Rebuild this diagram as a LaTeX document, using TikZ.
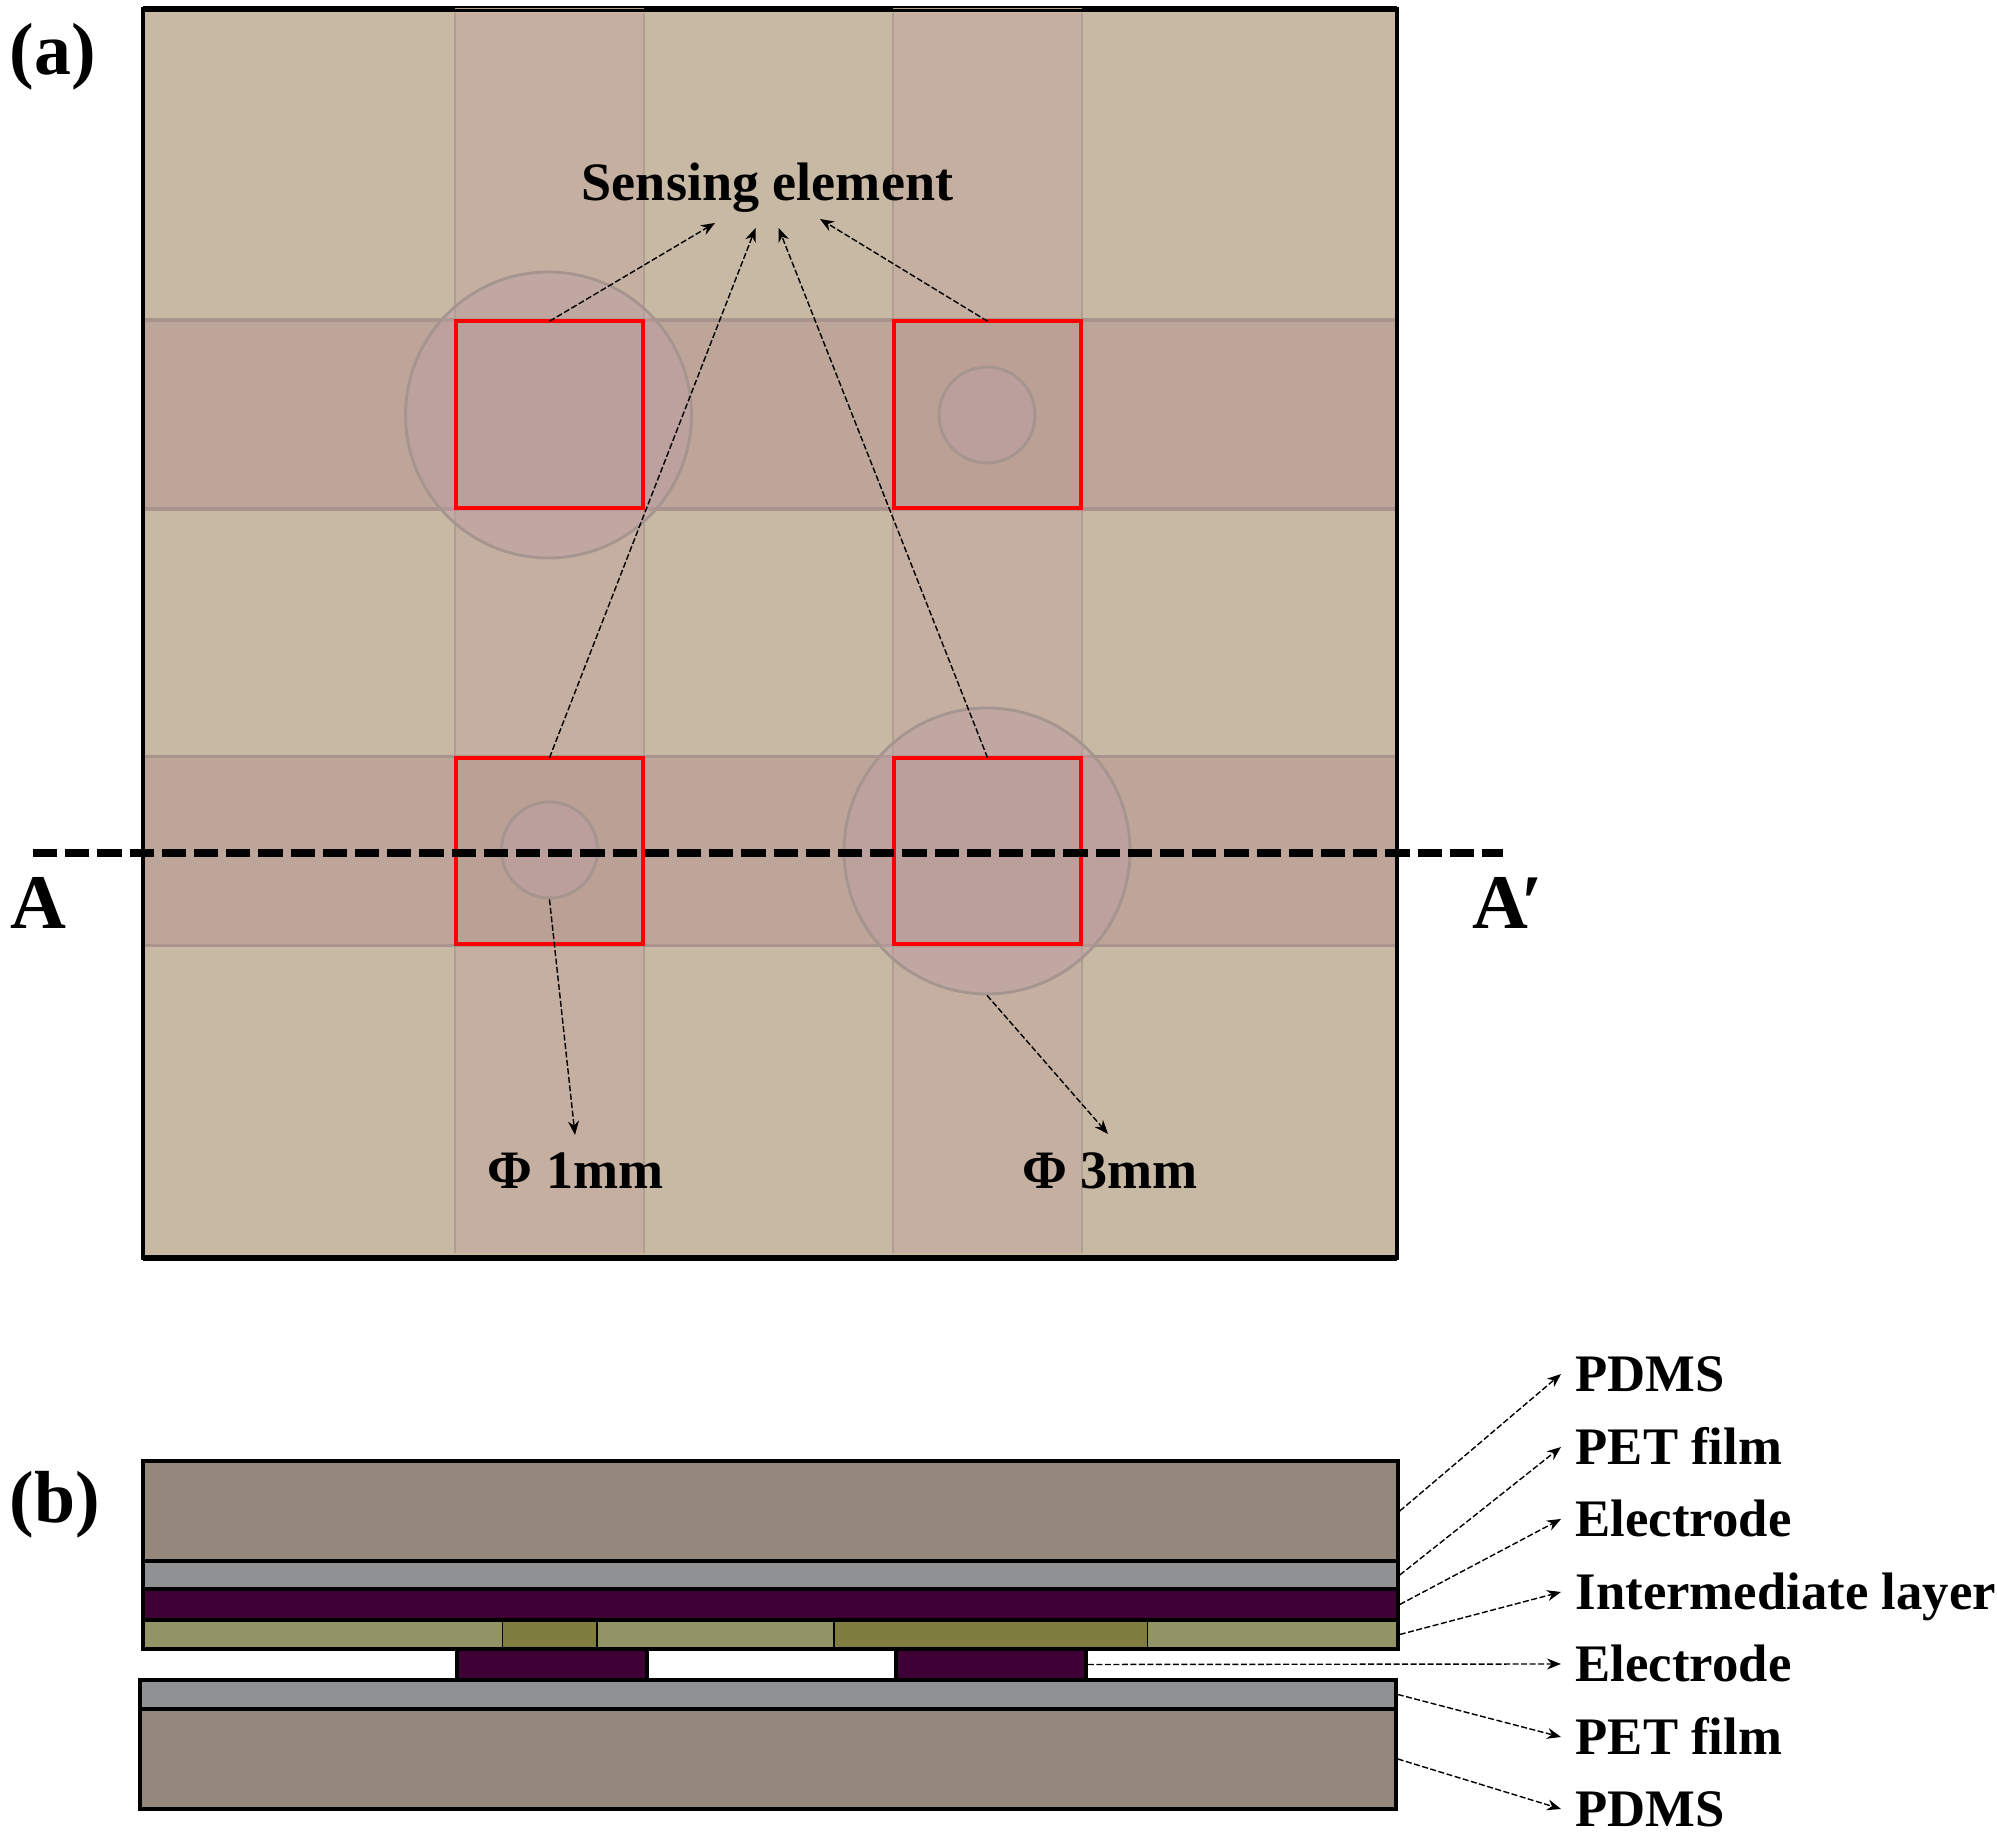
\documentclass[tikz,border=0pt]{standalone}
\usepackage{xcolor}
\usepackage{fontspec}
\setmainfont{Liberation Serif}
\usetikzlibrary{arrows.meta}
\definecolor{basetan}{RGB}{200, 185, 164}
\definecolor{stripv}{RGB}{197, 175, 160}
\definecolor{striph}{RGB}{190, 165, 153}
\definecolor{stripcross}{RGB}{186, 160, 149}
\definecolor{edgev}{RGB}{174, 159, 144}
\definecolor{edgeh}{RGB}{168, 148, 140}
\definecolor{dotfill}{RGB}{188, 158, 165}
\definecolor{dotedge}{RGB}{165, 149, 142}
\definecolor{pdmsgray}{RGB}{148, 135, 123}
\definecolor{petgray}{RGB}{144, 145, 146}
\definecolor{electrodepurple}{RGB}{63, 0, 53}
\definecolor{interlight}{RGB}{146, 148, 102}
\definecolor{interdark}{RGB}{127, 125, 64}
\tikzset{
    vstrip/.style={fill=stripv,inner sep=0pt,outer sep=0pt,minimum width=1.89cm,minimum height=12.40cm},
    hstrip/.style={fill=striph,inner sep=0pt,outer sep=0pt,minimum width=12.5cm,minimum height=1.89cm},
    sensor/.style={fill=stripcross,inner sep=0pt,outer sep=0pt,minimum size=1.865cm},
    dot/.style={circle,draw=dotedge,line width=0.8pt,fill=dotfill,fill opacity=0.45,inner sep=0pt,minimum size=#1},
    layer/.style={draw=black,line width=1pt,inner sep=0pt},
    callout/.style={dashed,dash pattern=on 0.06cm off 0.025cm,line width=0.4pt,-{Stealth[length=0.14cm,width=0.11cm]}},
    lbl/.style={anchor=base west,inner sep=0pt,font=\fontsize{15}{18}\selectfont\bfseries},
    lblc/.style={anchor=base,inner sep=0pt,font=\fontsize{15.4}{18}\selectfont\bfseries},
    tag/.style={anchor=base west,inner sep=0pt,font=\fontsize{22}{26}\selectfont\bfseries},
    paneltag/.style={anchor=base west,inner sep=0pt,font=\fontsize{21}{26}\selectfont\bfseries},
}

\begin{document}
\begin{tikzpicture}
    \useasboundingbox (0,0) rectangle (19.97,18.39);

    % Top view
    \node[draw=black,line width=1.15pt,fill=basetan,inner sep=0pt,outer sep=0pt,minimum width=12.54cm,minimum height=12.49cm] (board) at (7.70,12.055) {};
    \draw[line width=1.7pt] (board.north west) -- (board.north east);
    \draw[line width=1.7pt] (board.south west) -- (board.south east);
    \node[vstrip] (stripL) at (5.495,12.055) {};
    \node[vstrip] (stripR) at (9.875,12.055) {};
    \foreach \s in {stripL,stripR} {
        \draw[edgev,line width=0.4pt] (\s.north west) -- (\s.south west);
        \draw[edgev,line width=0.4pt] (\s.north east) -- (\s.south east);
        \draw[edgev,line width=0.4pt] ([yshift=0.05cm]\s.north west) -- ([yshift=0.05cm]\s.north east);
    }
    \node[hstrip] (stripT) at (7.70,14.245) {};
    \node[hstrip] (stripB) at (7.70,9.88) {};
    \foreach \s in {stripT,stripB} {
        \draw[edgeh,line width=0.9pt] (\s.north west) -- (\s.north east);
        \draw[edgeh,line width=0.9pt] (\s.south west) -- (\s.south east);
    }

    % Sensing elements
    \node[sensor] (sensorTL) at (5.495,14.245) {};
    \node[sensor] (sensorTR) at (9.875,14.245) {};
    \node[sensor] (sensorBL) at (5.495,9.88) {};
    \node[sensor] (sensorBR) at (9.875,9.88) {};
    \node[dot=2.86cm] (dotTL) at (5.485,14.24) {};
    \node[dot=0.96cm] (dotTR) at (9.87,14.24) {};
    \node[dot=0.96cm] (dotBL) at (5.495,9.89) {};
    \node[dot=2.86cm] (dotBR) at (9.87,9.88) {};
    \foreach \s in {sensorTL,sensorTR,sensorBL,sensorBR}
        \draw[red,line width=1.25pt] (\s.south west) rectangle (\s.north east);

    % Labels of the top view
    \node[lblc] (sensing) at (7.675,16.38) {Sensing element};
    \node[lblc] (phiOne) at (5.755,6.50) {Φ 1mm};
    \node[lblc] (phiThree) at (11.10,6.50) {Φ 3mm};
    \coordinate (tipTL) at (7.15,16.16);
    \coordinate (tipTR) at (8.20,16.20);
    \coordinate (tipBL) at (7.556,16.11);
    \coordinate (tipBR) at (7.786,16.11);
    \coordinate (tipOne) at (5.75,7.04);
    \coordinate (tipThree) at (11.08,7.05);
    \draw[callout] (sensorTL.north) -- (tipTL);
    \draw[callout] (sensorTR.north) -- (tipTR);
    \draw[callout] (sensorBL.north) -- (tipBL);
    \draw[callout] (sensorBR.north) -- (tipBR);
    \draw[callout] (dotBL.south) -- (tipOne);
    \draw[callout] (dotBR.south) -- (tipThree);

    % Section line
    \coordinate (cutL) at (0.33,9.857);
    \coordinate (cutR) at (15.03,9.857);
    \draw[line width=0.08cm,dash pattern=on 0.242cm off 0.08cm] (cutL) -- (cutR);
    \node[tag] (cutA) at (0.10,9.10) {A};
    \node[tag] (cutB) at (14.72,9.10) {A\kern-0.07cm ′};

    \node[paneltag] (panelA) at (0.09,17.64) {(a)};
    \node[paneltag] (panelB) at (0.09,3.16) {(b)};

    % Cross section
    \node[layer,fill=pdmsgray,minimum width=12.55cm,minimum height=1cm] (pdmsTop) at (7.705,3.28) {};
    \node[layer,fill=petgray,minimum width=12.55cm,minimum height=0.28cm] (petTop) at (7.705,2.64) {};
    \node[layer,fill=electrodepurple,minimum width=12.55cm,minimum height=0.31cm] (electrodeTop) at (7.705,2.345) {};
    \node[layer,fill=interlight,minimum width=12.55cm,minimum height=0.29cm] (inter) at (7.705,2.045) {};
    \node[draw=black,line width=0.3pt,fill=interdark,inner sep=0pt,minimum width=0.945cm,minimum height=0.26cm] (interOne) at (5.4975,2.045) {};
    \node[draw=black,line width=0.3pt,fill=interdark,inner sep=0pt,minimum width=3.135cm,minimum height=0.26cm] (interThree) at (9.9075,2.045) {};
    \node[layer,fill=electrodepurple,minimum width=1.90cm,minimum height=0.31cm] (electrodeL) at (5.52,1.745) {};
    \node[layer,fill=electrodepurple,minimum width=1.90cm,minimum height=0.31cm] (electrodeR) at (9.91,1.745) {};
    \node[layer,fill=petgray,minimum width=12.56cm,minimum height=0.29cm] (petBot) at (7.68,1.445) {};
    \node[layer,fill=pdmsgray,minimum width=12.56cm,minimum height=1cm] (pdmsBot) at (7.68,0.80) {};

    % Layer names
    \node[lbl] (nameA) at (15.75,4.47) {PDMS};
    \node[lbl] (nameB) at (15.75,3.74) {PET film};
    \node[lbl] (nameC) at (15.75,3.02) {Electrode};
    \node[lbl] (nameD) at (15.75,2.29) {Intermediate layer};
    \node[lbl] (nameE) at (15.75,1.57) {Electrode};
    \node[lbl] (nameF) at (15.75,0.84) {PET film};
    \node[lbl] (nameG) at (15.75,0.12) {PDMS};
    \foreach \from/\to in {pdmsTop/nameA,petTop/nameB,electrodeTop/nameC,inter/nameD,electrodeR/nameE,petBot/nameF,pdmsBot/nameG}
        \draw[callout] (\from.east) -- ([shift={(-0.14,0.18)}]\to.base west);
\end{tikzpicture}
\end{document}
